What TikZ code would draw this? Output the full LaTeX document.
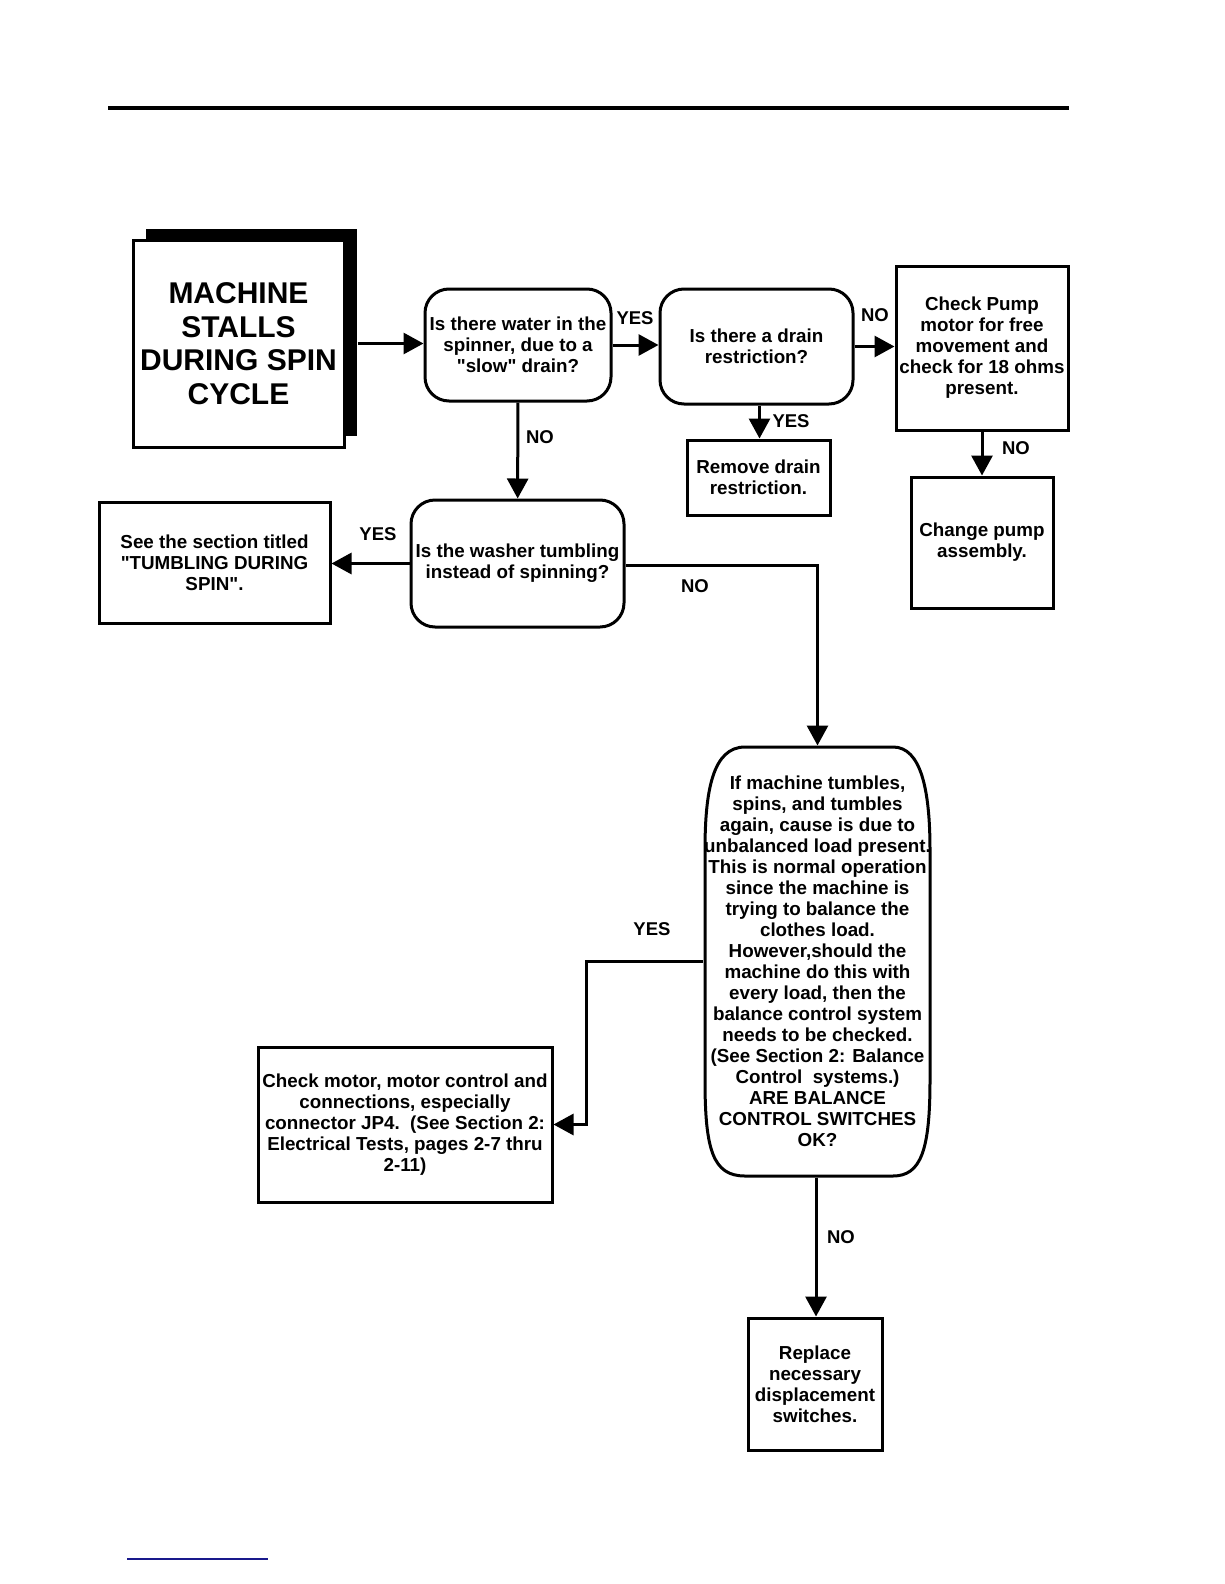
\documentclass[tikz,border=0pt]{standalone}
\usepackage{fontspec}
\setmainfont{Liberation Sans}[Ligatures=TeXOff]
\usetikzlibrary{arrows.meta,shadows}
\definecolor{linknavy}{RGB}{25,25,140}
\tikzset{
  box/.style={draw, line width=3pt, align=center, inner sep=0pt,
    font=\bfseries\fontsize{18.8}{21}\selectfont},
  rbox/.style={box, rounded corners=24pt},
  lbl/.style={font=\bfseries\fontsize{18.5}{21}\selectfont, inner sep=0pt},
  arr/.style={line width=3pt, -{Triangle[length=20pt,width=21pt]}},
}
\begin{document}
\begin{tikzpicture}[x=1pt, y=-1pt]
\draw[line width=4pt] (108,108) -- (1069,108);
\draw[linknavy, line width=1.3pt] (127,1559) -- (268,1559);
% start box
\node[box, fill=white, minimum width=211pt, minimum height=207pt,
  font=\bfseries\fontsize{30}{33.5}\selectfont,
  drop shadow={shadow xshift=13pt, shadow yshift=11pt, fill=black, opacity=1}]
  (title) at (238.5,343.5) {MACHINE\\STALLS\\DURING SPIN\\CYCLE};
% questions
\node[rbox, minimum width=186pt, minimum height=112pt] (water) at (518,345)
  {Is there water in the\\spinner, due to a\\"slow" drain?};
\node[rbox, minimum width=193pt, minimum height=115pt] (restr) at (756.5,346.5)
  {Is there a drain\\restriction?};
\node[rbox, minimum width=213pt, minimum height=127pt] (tumble) at (517.5,563.5)
  {Is the washer tumbling\\instead of spinning?};
% actions
\node[box, minimum width=172pt, minimum height=164pt] (pump) at (982,348)
  {Check Pump\\motor for free\\movement and\\check for 18 ohms\\present.};
\node[box, minimum width=143pt, minimum height=75pt] (drain) at (758.5,477.5)
  {Remove drain\\restriction.};
\node[box, minimum width=142pt, minimum height=131pt] (change) at (982,542.5)
  {Change pump\\assembly.};
\node[box, minimum width=231pt, minimum height=121pt] (see) at (214.5,562.5)
  {See the section titled\\"TUMBLING DURING\\SPIN".};
\node[box, minimum width=294pt, minimum height=155pt] (motor) at (405,1124.5)
  {Check motor, motor control and\\connections, especially\\connector JP4.\ \ (See Section 2:\\Electrical Tests, pages 2-7 thru\\2-11)};
\node[box, minimum width=134pt, minimum height=132pt] (repl) at (815,1384)
  {Replace\\necessary\\displacement\\switches.};
% balance question
\node[box, draw=none, minimum width=225pt, minimum height=429pt] (bal) at (817.5,961.5)
  {If machine tumbles,\\spins, and tumbles\\again, cause is due to\\unbalanced load present.\\This is normal operation\\since the machine is\\trying to balance the\\clothes load.\\However,should the\\machine do this with\\every load, then the\\balance control system\\needs to be checked.\\(See Section 2: Balance\\Control\ \ systems.)\\ARE BALANCE\\CONTROL SWITCHES\\OK?};
\draw[line width=3pt] (745,747) -- (893,747)
  .. controls (921,747) and (930,790) .. (930,850) -- (930,1080)
  .. controls (930,1150) and (921,1176) .. (893,1176) -- (745,1176)
  .. controls (713,1176) and (705,1150) .. (705,1080) -- (705,850)
  .. controls (705,790) and (713,747) .. (745,747) -- cycle;
% connectors
\draw[arr] ([xshift=12pt]title.east) -- (title.east -| water.west);
\draw[arr] (water.east) -- (water.east -| restr.west);
\draw[arr] (restr.east) -- (restr.east -| pump.west);
\draw[arr] ([xshift=3pt]restr.south) -- ([xshift=3pt]restr.south |- drain.north);
\draw[arr] (pump) -- (change);
\draw[arr] (water) -- (tumble);
\draw[arr] (tumble.west) -- (tumble.west -| see.east);
\draw[arr] ([yshift=-1.5pt]tumble.east) -| (bal.north);
\draw[arr] (bal.west) -- ++(-116,0) |- (motor.east);
\draw[arr] ([xshift=-1.5pt]bal.south) -- ([xshift=-1.5pt]bal.south |- repl.north);
% labels
\node[lbl] (yes1) at (635,318) {YES};
\node[lbl] (no1) at (875,315) {NO};
\node[lbl] (yes2) at (791,421) {YES};
\node[lbl] (no2) at (1016,448) {NO};
\node[lbl] (no3) at (540,437) {NO};
\node[lbl] (yes3) at (378,534) {YES};
\node[lbl] (no4) at (695,586) {NO};
\node[lbl] (yes4) at (652,929) {YES};
\node[lbl] (no5) at (841,1237) {NO};
\pgfresetboundingbox
\useasboundingbox (0,0) rectangle (1224,1584);
\end{tikzpicture}
\end{document}
